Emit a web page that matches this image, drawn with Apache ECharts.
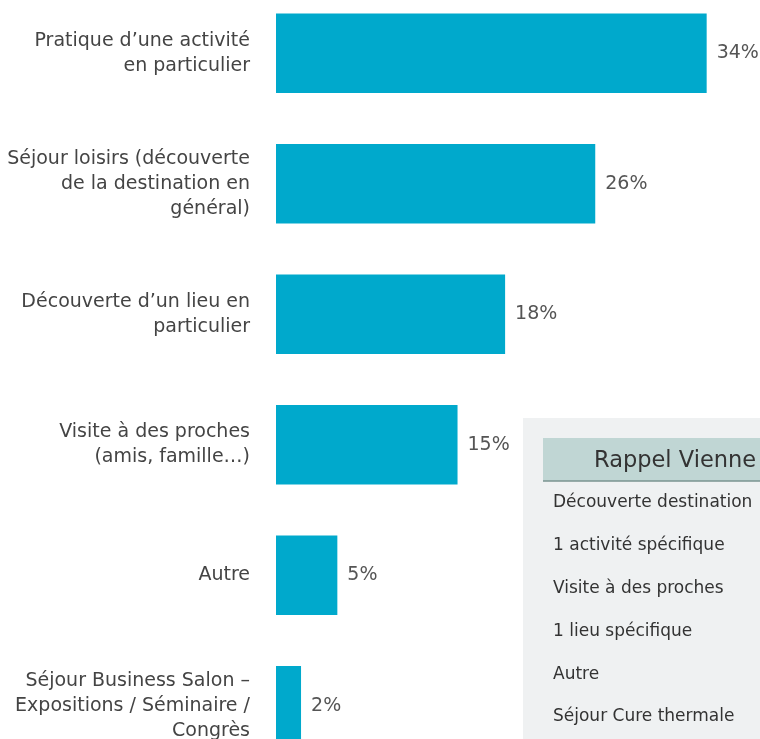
<!DOCTYPE html>
<html>
<head>
<meta charset="utf-8">
<script src="https://cdn.jsdelivr.net/npm/echarts@6/dist/echarts.min.js"></script>
<style>
	html, body { margin: 0; padding: 0; background: #fff; overflow: hidden; }
	/* le graphique d'origine est coupé en haut et en bas */
	#chart { width: 760px; height: 800px; margin-top: -12px; }
</style>
</head>
<body>
<div id="chart"></div>
<script>
	// motifs de séjour (du haut vers le bas)
	const categories = [
		'Pratique d\u2019une activité\nen particulier',
		'Séjour loisirs (découverte\nde la destination en\ngénéral)',
		'Découverte d\u2019un lieu en\nparticulier',
		'Visite à des proches\n(amis, famille\u2026)',
		'Autre',
		'Séjour Business Salon \u2013\nExpositions / Séminaire /\nCongrès'
	]
	const values = [34.4, 25.5, 18.3, 14.5, 4.9, 2.0]

	// encadré "Rappel Vienne"
	const rappelTitle = 'Rappel Vienne'
	const rappelItems = [
		'Découverte destination',
		'1 activité spécifique',
		'Visite à des proches',
		'1 lieu spécifique',
		'Autre',
		'Séjour Cure thermale'
	]

	const font = '"DejaVu Sans", sans-serif'
	const off = 12 // décalage du conteneur
	const chart = echarts.init(document.getElementById('chart'))

	const rappelGraphics = rappelItems.map(function (t, i) {
		return {
			type: 'text',
			x: 553,
			y: 503 + off + i * 42.8,
			z: 12,
			style: { text: t, fill: '#333', font: '17px ' + font, verticalAlign: 'middle' }
		}
	})

	let option = {
		animation: false,
		grid: {
			left: 276,
			width: 482,
			top: 0,
			height: 783,
			containLabel: false
		},
		xAxis: {
			type: 'value',
			min: 0,
			max: 38.5,
			show: false
		},
		yAxis: {
			type: 'category',
			inverse: true,
			data: categories,
			axisLine: { show: false },
			axisTick: { show: false },
			splitLine: { show: false },
			axisLabel: {
				margin: 26,
				color: '#444',
				fontFamily: font,
				fontSize: 19,
				lineHeight: 25,
				padding: [4, 0, 0, 0],
				align: 'right'
			}
		},
		series: [{
			type: 'bar',
			data: values,
			barCategoryGap: '39%',
			itemStyle: { color: '#00a9cc' },
			label: {
				show: true,
				position: 'right',
				distance: 10,
				color: '#555',
				fontFamily: font,
				fontSize: 19,
				formatter: function (p) { return Math.round(p.value) + '%' }
			}
		}],
		graphic: [
			{
				type: 'rect',
				shape: { x: 523, y: 418 + off, width: 250, height: 400 },
				style: { fill: '#eff1f2' },
				z: 10
			},
			{
				type: 'rect',
				shape: { x: 543, y: 438 + off, width: 230, height: 43 },
				style: { fill: '#c0d6d4' },
				z: 11
			},
			{
				type: 'line',
				shape: { x1: 543, y1: 481 + off, x2: 770, y2: 481 + off },
				style: { stroke: '#7a9391', lineWidth: 1.5 },
				z: 12
			},
			{
				type: 'text',
				x: 594,
				y: 461 + off,
				z: 12,
				style: { text: rappelTitle, fill: '#333', font: '22.5px ' + font, verticalAlign: 'middle' }
			}
		].concat(rappelGraphics)
	}

	chart.setOption(option)
</script>
</body>
</html>
